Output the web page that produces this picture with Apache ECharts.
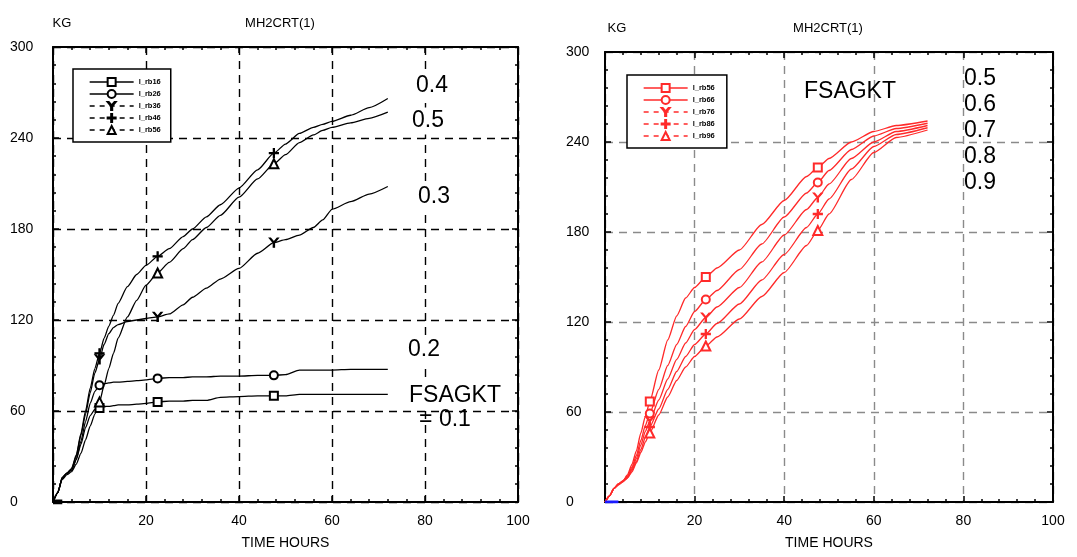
<!DOCTYPE html>
<html>
<head>
<meta charset="utf-8">
<script src="https://cdn.jsdelivr.net/npm/echarts@6/dist/echarts.min.js"></script>
<style>
html,body{margin:0;padding:0;background:#fff;}
#c{width:1077px;height:557px;}
</style>
</head>
<body>
<div id="c"></div>
<script>
// ---------- DATA ----------
const xTicks = [0, 20, 40, 60, 80, 100];
const yTicks = [0, 60, 120, 180, 240, 300];
const markerTimes = [10, 22.5, 47.5];

// Left panel (black), FSAGKT = 0.1 .. 0.5
const timeLeft = [0,1,2,3,4,5,6,7,8,9,10,11,12,13,14,16,18,20,22.5,25,28,30,33,36,40,44,47.5,50,53,56,58,60,64,68,72];
const left01 = [0,6,16,19,21,28,38,49,57,61,62,63,63,63.5,64,64,64.5,65,66,66.5,66.5,67,67,69,69.5,70,70,70,71,71,71,71,71,71,71];
const left02 = [0,6,16,19,21,28,40,53,65,73,77,78,78.5,79,79,79.5,80,80.5,81.5,82,82,82.5,82.5,83,83,83.5,83.5,84,87,87,87,87,87.5,87.5,87.5];
const left03 = [0,6,16,19,22,30,44,58,72,85,94,104,111,115,117,119,120,121,122,124,130,135,141,147,154,164,171,173,176,181,186,193,198,203,208];
const left04 = [0,6,16,19,22,31,45,60,75,88,98,108,116,123,131,142,150,156,162,167,175,180,188,196,207,219,230,236,243,247,249,251,255,260,266];
const left05 = [0,6,15,18,20,25,32,41,50,58,66,77,88,98,108,122,133,143,151,158,167,173,181,189,201,213,223,229,237,242,245,247,250,253,257];
const leftOriginTime = [0, 2];
const leftOriginVal = [0, 0];

// Right panel (red), FSAGKT = 0.5 .. 0.9
const timeRight = [0,1,2,3,4,5,6,7,8,9,10,12,14,16,18,20,22.5,25,30,35,40,45,47.5,50,55,60,65,72];
const right05 = [0,4,9,12,14,18,25,34,46,57,67,88,108,124,136,143,150,156,168,185,201,217,223,229,240,247,251,254];
const right06 = [0,4,9,12,14,17,23,31,41,51,59,75,91,105,117,127,135,141,155,172,190,206,213,221,235,244,249,252.5];
const right07 = [0,4,9,12,14,17,22,29,38,47,54,68,82,95,106,115,123,130,143,160,178,195,203,212,229,240,247,251];
const right08 = [0,4,9,11.5,13.5,16,21,27,35,43,50,62,75,87,97,105,112,119,132,148,165,183,192,202,222,237,245,249.5];
const right09 = [0,4,9,11.5,13.5,16,20,26,33,40,46,58,70,81,90,97,104,110,122,137,153,171,181,192,215,233,243,248];
const rightOriginTime = [0, 3];
const rightOriginVal = [0, 0];

const leftNames = ['l_rb16','l_rb26','l_rb36','l_rb46','l_rb56'];
const rightNames = ['l_rb56','l_rb66','l_rb76','l_rb86','l_rb96'];
const leftLabels = ['0.4','0.5','0.3','0.2'];
const rightLabels = ['0.5','0.6','0.7','0.8','0.9'];

// ---------- CHART ----------
const FONT = 'Liberation Sans';
const SYM_Y = 'path://M0,0 L1.4,0 L5,4.2 L8.6,0 L10,0 L5.7,5.2 L5.7,10 L4.3,10 L4.3,5.2 Z';
const SYM_PLUS = 'path://M4.4,0 L5.6,0 L5.6,4.4 L10,4.4 L10,5.6 L5.6,5.6 L5.6,10 L4.4,10 L4.4,5.6 L0,5.6 L0,4.4 L4.4,4.4 Z';
const symbols = ['emptyRect','emptyCircle',SYM_Y,SYM_PLUS,'emptyTriangle'];
const symSizes = [8,8,9,9,9];

function pts(t, v) {
  return t.map((x, i) => markerTimes.indexOf(x) >= 0 ? [x, v[i]] : {value: [x, v[i]], symbol: 'none'});
}
function lineSeries(name, t, v, k, color, grid) {
  return {
    name: name, type: 'line', xAxisIndex: grid*2, yAxisIndex: grid*2,
    data: pts(t, v), symbol: symbols[k], symbolSize: symSizes[k], showAllSymbol: true,
    smooth: 0.2, smoothMonotone: 'x', animation: false,
    lineStyle: {color: color, width: 1.3},
    itemStyle: {color: color, borderColor: color, borderWidth: 1.2}
  };
}

function axesFor(grid, gridColor, labelMargin) {
  const common = {
    gridIndex: grid, type: 'value', min: 0,
    axisLine: {show: true, onZero: false, lineStyle: {color: '#000', width: 2}},
    axisTick: {show: true, inside: true, length: 6, lineStyle: {color: '#000', width: 1.5}},
    minorTick: {show: true, splitNumber: 5, length: 3, lineStyle: {color: '#000', width: 1.5}},
  };
  const xMain = Object.assign({}, common, {
    max: 100, interval: 20, position: 'bottom',
    name: 'TIME HOURS', nameLocation: 'middle', nameGap: 34,
    nameTextStyle: {fontFamily: FONT, fontSize: 14, color: '#000'},
    axisLabel: {showMinLabel: false, fontFamily: FONT, fontSize: 14, color: '#000', margin: 12},
    splitLine: {show: true, lineStyle: {color: gridColor, width: 1.4, type: [8, 6]}},
  });
  const xTop = Object.assign({}, common, {
    max: 100, interval: 20, position: 'top', axisLabel: {show: false}, splitLine: {show: false}
  });
  const yMain = Object.assign({}, common, {
    max: 300, interval: 60, position: 'left',
    axisLabel: {fontFamily: FONT, fontSize: 14, color: '#000', align: 'left', margin: labelMargin},
    splitLine: {show: true, lineStyle: {color: gridColor, width: 1.4, type: [8, 6]}},
  });
  const yRight = Object.assign({}, common, {
    max: 300, interval: 60, position: 'right', axisLabel: {show: false}, splitLine: {show: false}
  });
  return {x: [xMain, xTop], y: [yMain, yRight]};
}

const aL = axesFor(0, '#000', 43);
const aR = axesFor(1, '#8a8a8a', 39);

const series = [];
const lVals = [left01, left02, left03, left04, left05];
lVals.forEach((v, k) => series.push(lineSeries(leftNames[k], timeLeft, v, k, '#000', 0)));
const rVals = [right05, right06, right07, right08, right09];
rVals.forEach((v, k) => series.push(lineSeries(rightNames[k] + ' ', timeRight, v, k, '#ff2a2a', 1)));
series.push({type: 'line', xAxisIndex: 0, yAxisIndex: 0, data: leftOriginTime.map((x, i) => [x, leftOriginVal[i]]),
  symbol: 'none', lineStyle: {color: '#000', width: 5}, animation: false, silent: true});
series.push({type: 'line', xAxisIndex: 2, yAxisIndex: 2, data: rightOriginTime.map((x, i) => [x, rightOriginVal[i]]),
  symbol: 'none', lineStyle: {color: '#1a1aff', width: 3}, animation: false, silent: true});

function legendData(names, color, suffix) {
  return names.map((n, k) => ({
    name: n + suffix,
    lineStyle: {type: k >= 2 ? [5, 5] : 'solid', color: color, width: 1.3}
  }));
}
const legendCommon = {
  orient: 'vertical', itemWidth: 44, itemHeight: 10, itemGap: 2,
  borderColor: '#000', borderWidth: 1.5, backgroundColor: '#fff',
  padding: [8, 10, 7, 16], selectedMode: false,
  textStyle: {fontFamily: FONT, fontSize: 7.5, fontWeight: 'bold', color: '#000'}
};

function txt(text, x, y, size, extra) {
  return {type: 'text', z: 100, style: Object.assign({text: text, x: x, y: y, font: size + 'px ' + FONT,
    fill: '#000', textAlign: 'center', textVerticalAlign: 'middle'}, extra || {})};
}
const lblBg = {backgroundColor: '#fff', padding: [2, 4]};

const graphics = [
  txt('KG', 62, 23, 13),
  txt('MH2CRT(1)', 280, 23, 13),
  txt('KG', 617, 28, 13),
  txt('MH2CRT(1)', 828, 28, 13),
  txt(leftLabels[0], 432, 86, 23, lblBg),
  txt(leftLabels[1], 428, 121, 23, lblBg),
  txt(leftLabels[2], 434, 197, 23, lblBg),
  txt(leftLabels[3], 424, 350, 23, lblBg),
  txt('FSAGKT', 455, 396, 23, lblBg),
  txt('= 0.1', 445, 420, 23),
  txt('FSAGKT', 850, 92, 23),
];
rightLabels.forEach((s, i) => graphics.push(txt(s, 980, 79 + i * 26, 23)));

const chart = echarts.init(document.getElementById('c'), null, {renderer: 'canvas'});
chart.setOption({
  backgroundColor: '#fff',
  animation: false,
  grid: [
    {left: 53, top: 47, width: 465, height: 455, show: false},
    {left: 605, top: 52, width: 448, height: 450, show: false}
  ],
  xAxis: [aL.x[0], aL.x[1], aR.x[0], aR.x[1]],
  yAxis: [aL.y[0], aL.y[1], aR.y[0], aR.y[1]],
  legend: [
    Object.assign({}, legendCommon, {left: 73, top: 69, data: legendData(leftNames, '#000', '')}),
    Object.assign({}, legendCommon, {left: 627, top: 75, data: legendData(rightNames, '#ff2a2a', ' ')})
  ],
  series: series,
  graphic: graphics
});
</script>
</body>
</html>
